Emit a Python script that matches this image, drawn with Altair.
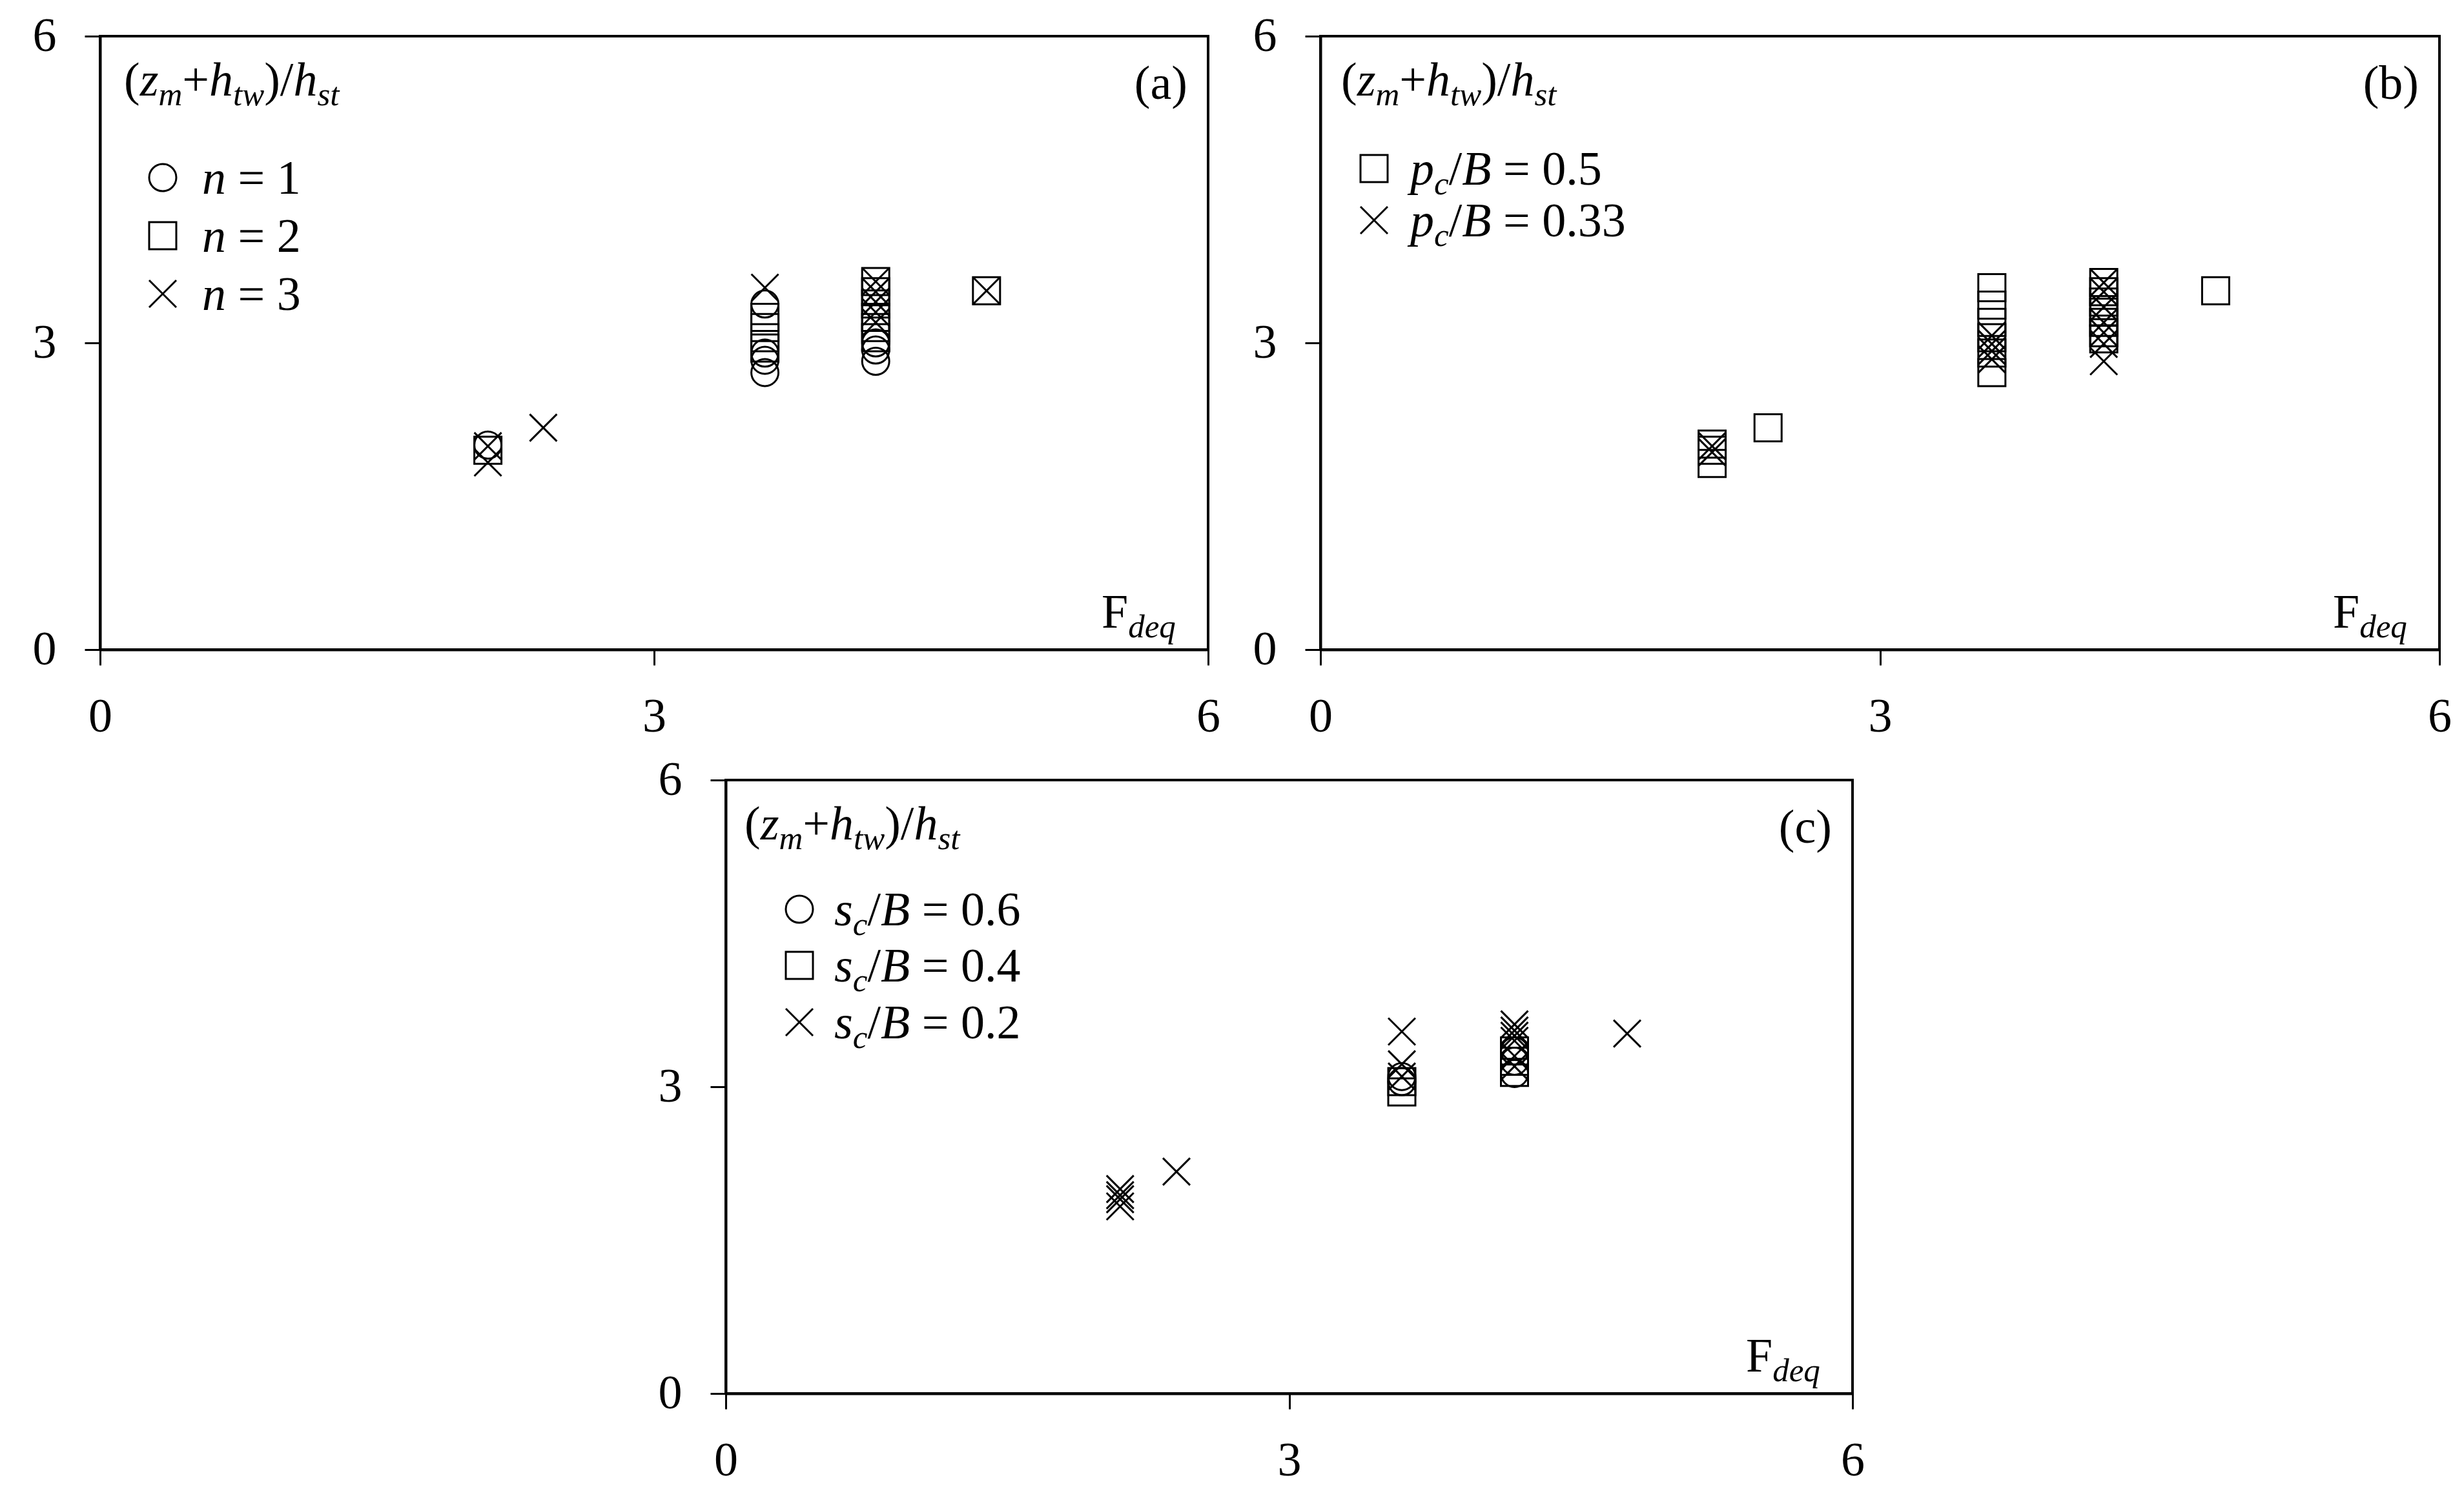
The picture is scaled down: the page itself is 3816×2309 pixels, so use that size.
import altair as alt
import pandas as pd

FONT = "Liberation Serif"
FS = 74
SUB = 51
SUB_DY = 15
MSIZE = 1764
SW = 3
XPATH = "M-1,-1L1,1M-1,1L1,-1"

# ---------------- data ----------------
# panel (a): n = 1 (circle), n = 2 (square), n = 3 (cross)
a_n1_x = [2.1, 3.6, 3.6, 3.6, 3.6, 4.2, 4.2, 4.2]
a_n1_y = [2.00, 3.38, 2.90, 2.83, 2.71, 3.00, 2.93, 2.82]
a_n2_x = [2.1, 3.6, 3.6, 3.6, 3.6, 4.2, 4.2, 4.2, 4.2, 4.2, 4.2, 4.8]
a_n2_y = [1.95, 3.25, 3.15, 3.05, 2.95, 3.60, 3.50, 3.38, 3.25, 3.15, 3.05, 3.51]
a_n3_x = [2.1, 2.1, 2.4, 3.6, 4.2, 4.2, 4.2, 4.2, 4.2, 4.8]
a_n3_y = [1.99, 1.83, 2.17, 3.54, 3.60, 3.50, 3.40, 3.30, 3.20, 3.51]

# panel (b): pc/B = 0.5 (square), pc/B = 0.33 (cross)
b_p05_x = [2.1, 2.1, 2.1, 2.4, 3.6, 3.6, 3.6, 3.6, 3.6, 3.6,
           4.2, 4.2, 4.2, 4.2, 4.2, 4.2, 4.2, 4.8]
b_p05_y = [2.01, 1.95, 1.82, 2.17, 3.54, 3.37, 3.20, 3.05, 2.90, 2.71,
           3.59, 3.50, 3.40, 3.30, 3.20, 3.10, 3.04, 3.51]
b_p033_x = [2.1, 2.1, 3.6, 3.6, 3.6, 3.6, 4.2, 4.2, 4.2, 4.2, 4.2, 4.2, 4.2]
b_p033_y = [1.99, 1.93, 3.07, 2.99, 2.92, 2.84, 3.59, 3.50, 3.35, 3.20, 3.10, 2.99, 2.82]

# panel (c): sc/B = 0.6 (circle), 0.4 (square), 0.2 (cross)
c_s06_x = [3.6, 3.6, 4.2, 4.2, 4.2]
c_s06_y = [3.10, 3.05, 3.35, 3.25, 3.13]
c_s04_x = [3.6, 3.6, 4.2, 4.2, 4.2]
c_s04_y = [3.05, 2.95, 3.35, 3.25, 3.14]
c_s02_x = [2.1, 2.1, 2.1, 2.1, 2.4, 3.6, 3.6, 3.6, 4.2, 4.2, 4.2, 4.2, 4.2, 4.2, 4.8]
c_s02_y = [2.00, 1.94, 1.90, 1.83, 2.17, 3.54, 3.22, 3.10, 3.61, 3.55, 3.50, 3.45, 3.30, 3.20, 3.52]

ticks = [0, 3, 6]

# ---------------- helpers ----------------
W_REG = {'(': 0.333, ')': 0.333, '+': 0.564, '/': 0.278, '=': 0.564, ' ': 0.25,
         '.': 0.25, 'F': 0.556}
W_IT = {'z': 0.389, 'm': 0.722, 'h': 0.5, 't': 0.278, 'w': 0.667, 's': 0.389,
        'n': 0.5, 'p': 0.5, 'c': 0.444, 'B': 0.611, 'd': 0.5, 'e': 0.444, 'q': 0.5,
        ' ': 0.25}
ONE = pd.DataFrame({"k": [0]})

SHAPE_DOMAIN = ['circle', 'square', 'cross']
SHAPE_RANGE = ['circle', 'square', XPATH]
SHAPES = dict(zip(SHAPE_DOMAIN, SHAPE_RANGE))


def cw(ch, st):
    tbl = W_REG if st == 'r' else W_IT
    return tbl.get(ch, 0.5)


def rich(segs, x0, y0):
    layers = []
    x = x0
    for t, st in segs:
        fs = SUB if st == 'si' else FS
        w = sum(cw(c, st) for c in t) * fs
        if t.strip():
            layers.append(
                alt.Chart(ONE).mark_text(
                    font=FONT, fontSize=fs,
                    fontStyle='normal' if st == 'r' else 'italic',
                    align='left', baseline='alphabetic', color='black'
                ).encode(
                    x=alt.value(x),
                    y=alt.value(y0 + (SUB_DY if st == 'si' else 0)),
                    text=alt.value(t),
                )
            )
        x += w
    return layers


def symbol(shape, sx, sy):
    return alt.Chart(ONE).mark_point(
        filled=False, color='black', strokeWidth=SW, opacity=1,
        size=MSIZE, shape=shape
    ).encode(x=alt.value(sx), y=alt.value(sy))


TITLE = [('(', 'r'), ('z', 'i'), ('m', 'si'), ('+', 'r'), ('h', 'i'), ('tw', 'si'),
         (')/', 'r'), ('h', 'i'), ('st', 'si')]


def panel(series, legend_rows, W, H, title_x, sym_x, text_x, label):
    rows = []
    for shp, xs, ys in series:
        for xv, yv in zip(xs, ys):
            rows.append({"x": xv, "y": yv, "shape": shp})
    df = pd.DataFrame(rows)
    pts = alt.Chart(df).mark_point(
        filled=False, color='black', strokeWidth=SW, opacity=1, size=MSIZE
    ).encode(
        x=alt.X('x:Q', scale=alt.Scale(domain=[0, 6], nice=False, zero=False),
                axis=alt.Axis(values=ticks, title=None, grid=False, format='d')),
        y=alt.Y('y:Q', scale=alt.Scale(domain=[0, 6], nice=False, zero=False),
                axis=alt.Axis(values=ticks, title=None, grid=False, format='d')),
        shape=alt.Shape('shape:N', scale=alt.Scale(domain=SHAPE_DOMAIN, range=SHAPE_RANGE),
                        legend=None),
    )
    layers = [pts]
    layers += rich(TITLE, title_x, 92)
    layers.append(
        alt.Chart(ONE).mark_text(font=FONT, fontSize=FS, align='right',
                                 baseline='alphabetic', color='black')
        .encode(x=alt.value(W - 32), y=alt.value(97), text=alt.value(label))
    )
    layers += rich([('F', 'r'), ('deq', 'si')], W - 165, H - 34)
    for shp, sy, segs in legend_rows:
        layers.append(symbol(SHAPES[shp], sym_x, sy))
        layers += rich(segs, text_x, sy + 25)
    return alt.layer(*layers).properties(width=W, height=H)


H = 950

pa = panel(
    [("circle", a_n1_x, a_n1_y), ("square", a_n2_x, a_n2_y),
     ("cross", a_n3_x, a_n3_y)],
    [("circle", 219, [('n', 'i'), (' ', 'r'), ('= 1', 'r')]),
     ("square", 309, [('n', 'i'), (' ', 'r'), ('= 2', 'r')]),
     ("cross", 399, [('n', 'i'), (' ', 'r'), ('= 3', 'r')])],
    1716, H, 37, 97, 158, "(a)")

pb = panel(
    [("square", b_p05_x, b_p05_y), ("cross", b_p033_x, b_p033_y)],
    [("square", 205, [('p', 'i'), ('c', 'si'), ('/', 'r'), ('B', 'i'), (' ', 'r'), ('= 0.5', 'r')]),
     ("cross", 285, [('p', 'i'), ('c', 'si'), ('/', 'r'), ('B', 'i'), (' ', 'r'), ('= 0.33', 'r')])],
    1733, H, 32, 83, 139, "(b)")

pc = panel(
    [("circle", c_s06_x, c_s06_y), ("square", c_s04_x, c_s04_y),
     ("cross", c_s02_x, c_s02_y)],
    [("circle", 200, [('s', 'i'), ('c', 'si'), ('/', 'r'), ('B', 'i'), (' ', 'r'), ('= 0.6', 'r')]),
     ("square", 287, [('s', 'i'), ('c', 'si'), ('/', 'r'), ('B', 'i'), (' ', 'r'), ('= 0.4', 'r')]),
     ("cross", 375, [('s', 'i'), ('c', 'si'), ('/', 'r'), ('B', 'i'), (' ', 'r'), ('= 0.2', 'r')])],
    1745, H, 29, 114, 168, "(c)")

spacer = alt.Chart(ONE).mark_point(opacity=0).encode(
    x=alt.value(0), y=alt.value(0)
).properties(width=860, height=10, view=alt.ViewBackground(stroke='transparent'))

row1 = alt.hconcat(pa, pb, spacing=46)
row2 = alt.hconcat(spacer, pc, spacing=0)

chart = alt.vconcat(row1, row2, spacing=20).properties(
    padding={"left": 40, "top": 9, "right": 0, "bottom": 0},
    background='white',
).configure_axis(
    domainColor='black', domainWidth=4, tickColor='black', tickWidth=3,
    tickSize=24, labelFont=FONT, labelFontSize=FS, labelColor='black',
    labelPadding=44, labelFlush=False, labelOverlap=False, grid=False,
).configure_view(stroke='black', strokeWidth=4)

chart.save("out.html", embed_options={"renderer": "svg", "actions": False})
